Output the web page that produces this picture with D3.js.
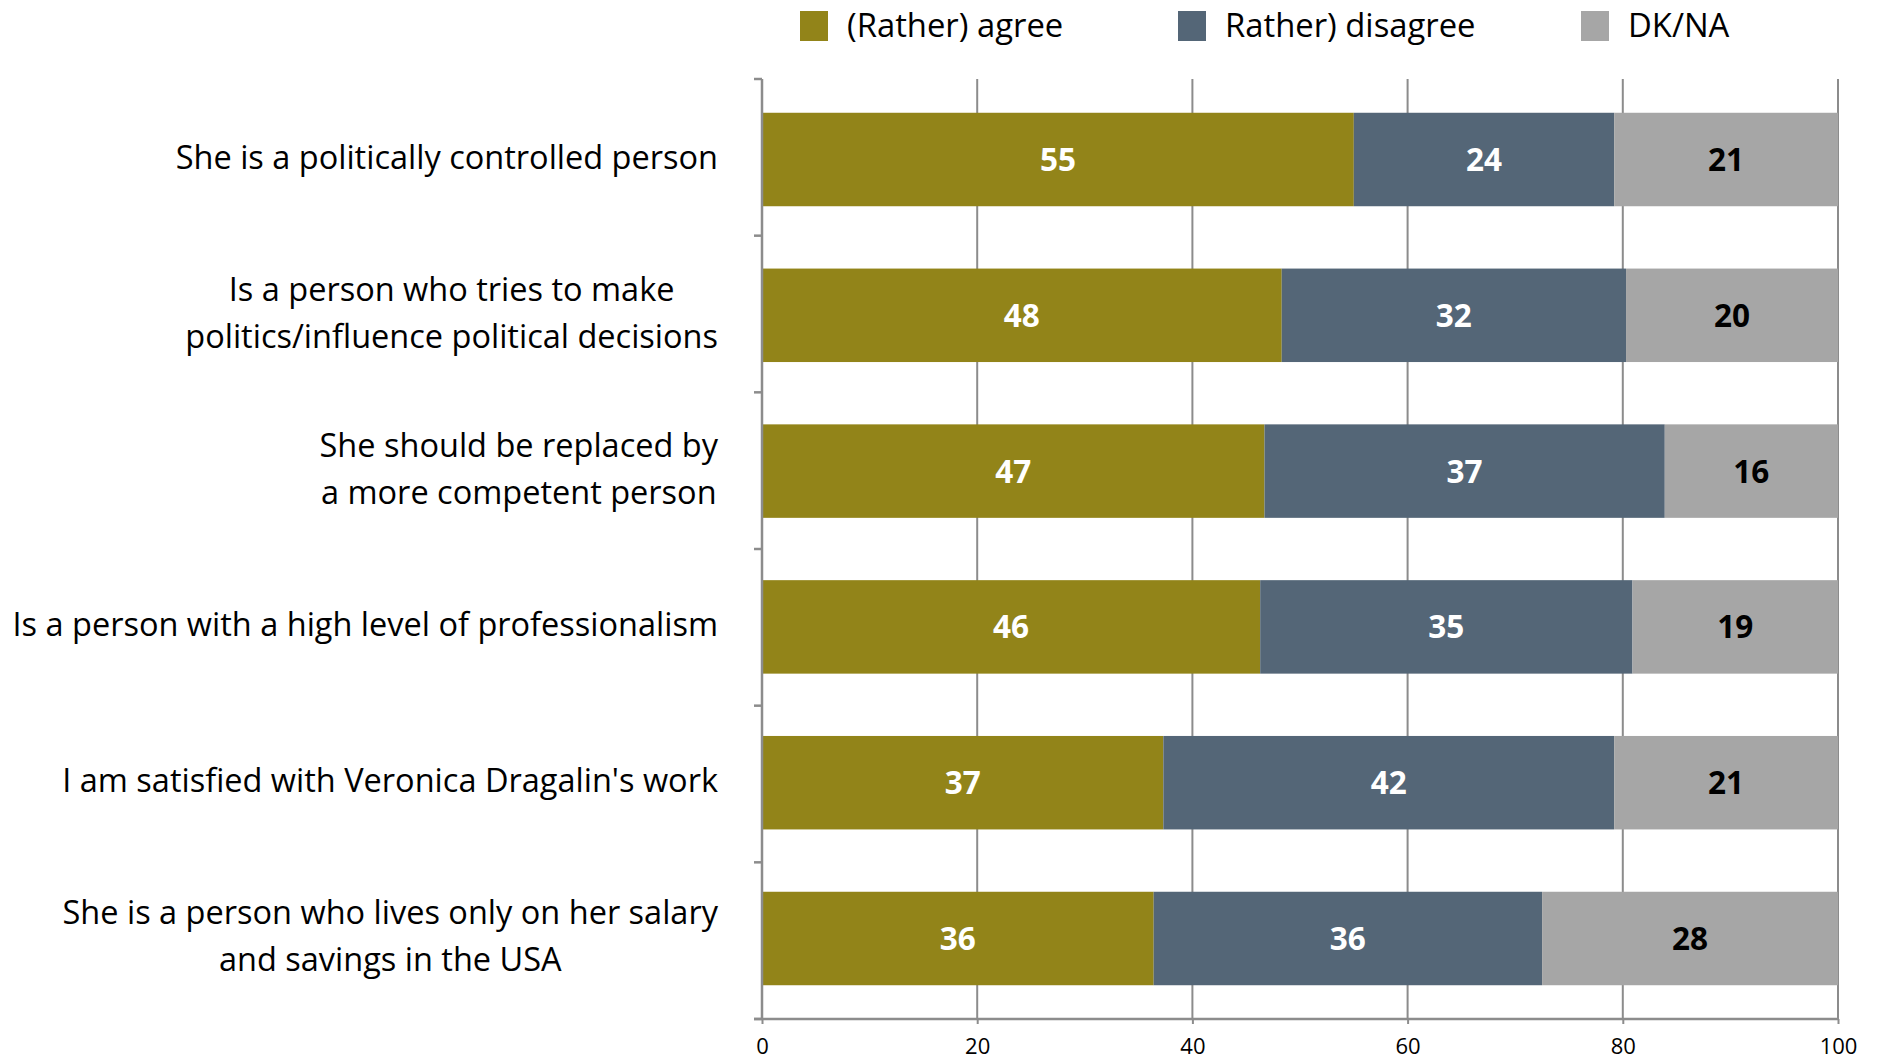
<!DOCTYPE html>
<html><head><meta charset="utf-8">
<script src="https://cdn.jsdelivr.net/npm/d3@7"></script>
<style>body{margin:0;background:#fff}svg{display:block}</style>
</head><body>
<svg id="chart" width="1879" height="1061"></svg>
<script>
const categories = [
  ["She is a politically controlled person"],
  ["Is a person who tries to make", "politics/influence political decisions"],
  ["She should be replaced by", "a more competent person"],
  ["Is a person with a high level of professionalism"],
  ["I am satisfied with Veronica Dragalin's work"],
  ["She is a person who lives only on her salary", "and savings in the USA"]
];
const seriesNames = ["(Rather) agree", "Rather) disagree", "DK/NA"];
const agree    = [55.0, 48.3, 46.7, 46.3, 37.3, 36.4];
const disagree = [24.2, 32.0, 37.2, 34.6, 41.9, 36.1];
const dkna     = [20.8, 19.7, 16.1, 19.1, 20.8, 27.5];
const xTicks = [0, 20, 40, 60, 80, 100];

const colors = ["#928419", "#546677", "#a6a6a6"];
const labelColors = ["#ffffff", "#ffffff", "#000000"];
const FONT = "'Open Sans', Lato, sans-serif";
const GRID = "#8c8c8c";

const svg = d3.select("#chart");
const x = d3.scaleLinear().domain([0, 100]).range([762, 1838]);
const y = d3.scaleBand().domain(d3.range(categories.length)).range([79, 1019])
  .paddingInner(0.4).paddingOuter(0.2167);
const yTick = d3.scaleLinear().domain([0, categories.length]).range([79, 1019]);

const rows = categories.map((c, i) => ({i, vals: [agree[i], disagree[i], dkna[i]]}));
const stackData = rows.map(r => { const o = {i: r.i}; r.vals.forEach((v, k) => o["s" + k] = v); return o; });
const stacked = d3.stack().keys(["s0", "s1", "s2"])(stackData);

// gridlines
svg.append("g").selectAll("line").data(xTicks.filter(t => t > 0)).join("line")
  .attr("x1", d => x(d)).attr("x2", d => x(d)).attr("y1", 79).attr("y2", 1019)
  .attr("stroke", GRID).attr("stroke-width", 2);

// bars
stacked.forEach((layer, k) => {
  svg.append("g").selectAll("rect").data(layer).join("rect")
    .attr("x", d => x(d[0])).attr("width", d => x(d[1]) - x(d[0]))
    .attr("y", (d, i) => y(i)).attr("height", y.bandwidth())
    .attr("fill", colors[k]);
  svg.append("g").selectAll("text").data(layer).join("text")
    .attr("x", d => (x(d[0]) + x(d[1])) / 2)
    .attr("y", (d, i) => y(i) + y.bandwidth() / 2 - 1)
    .attr("text-anchor", "middle").attr("dominant-baseline", "central")
    .attr("font-family", FONT).attr("font-weight", "bold").attr("font-size", 31.5)
    .attr("fill", labelColors[k])
    .text(d => Math.round(d[1] - d[0]));
});

// left axis
svg.append("line").attr("x1", x(0)).attr("x2", x(0)).attr("y1", 79).attr("y2", 1019)
  .attr("stroke", GRID).attr("stroke-width", 2.5);
svg.append("g").selectAll("line").data(d3.range(categories.length + 1)).join("line")
  .attr("x1", x(0) - 8).attr("x2", x(0)).attr("y1", d => yTick(d)).attr("y2", d => yTick(d))
  .attr("stroke", GRID).attr("stroke-width", 2.5);

// bottom axis
const xAxis = d3.axisBottom(x).tickValues(xTicks).tickSize(5);
const gx = svg.append("g").attr("transform", "translate(0,1019)").call(xAxis);
gx.select(".domain").attr("stroke", GRID).attr("stroke-width", 2.5).attr("d", `M${x(0)-8},0H${x(100)}`);
gx.selectAll(".tick line").attr("stroke", GRID).attr("stroke-width", 2);
gx.selectAll(".tick text").attr("font-family", FONT).attr("font-size", 22).attr("fill", "#000")
  .attr("dy", null).attr("y", 35);

// category labels
const lab = svg.append("g");
categories.forEach((lines, i) => {
  const cy = y(i) + y.bandwidth() / 2 - 3;
  const lh = 47;
  const t = lab.append("text").attr("font-family", FONT).attr("font-size", 32.5).attr("fill", "#000")
    .attr("text-anchor", "middle");
  const spans = lines.map((s, j) => t.append("tspan").attr("dominant-baseline", "central")
    .attr("y", cy + (j - (lines.length - 1) / 2) * lh).text(s));
  const maxW = d3.max(spans, sp => sp.node().getComputedTextLength());
  spans.forEach(sp => sp.attr("x", 718 - maxW / 2));
});

// legend
const legX = [800, 1178, 1581];
const leg = svg.append("g");
seriesNames.forEach((n, k) => {
  leg.append("rect").attr("x", legX[k]).attr("y", 11).attr("width", 28).attr("height", 30).attr("fill", colors[k]);
  leg.append("text").attr("x", legX[k] + 47).attr("y", 24).attr("dominant-baseline", "central")
    .attr("font-family", FONT).attr("font-size", 32.8).attr("fill", "#000").text(n);
});
</script>
</body></html>
